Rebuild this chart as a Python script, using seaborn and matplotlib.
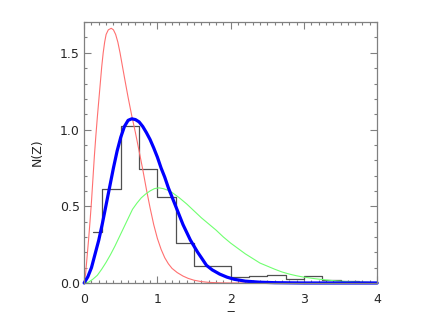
import matplotlib
matplotlib.use('Agg')
import matplotlib.pyplot as plt
from matplotlib.ticker import MultipleLocator
import seaborn as sns

# histogram of N(z), bin centres every 0.25
hist_z = [0.125, 0.375, 0.625, 0.875, 1.125, 1.375, 1.625, 1.875,
          2.125, 2.375, 2.625, 2.875, 3.125, 3.375, 3.625, 3.875]
hist_n = [0.33, 0.61, 1.02, 0.74, 0.56, 0.26, 0.11, 0.11,
          0.037, 0.045, 0.052, 0.024, 0.048, 0.02, 0.01, 0.005]

# red curve (narrow, low-z)
red_z = [0, 0.02, 0.04, 0.06, 0.08, 0.10, 0.12, 0.14, 0.16, 0.18, 0.20, 0.22,
         0.24, 0.26, 0.28, 0.30, 0.33, 0.37, 0.40, 0.43, 0.46, 0.49, 0.55,
         0.60, 0.65, 0.70, 0.75, 0.80, 0.85, 0.90, 0.95, 1.00, 1.05, 1.10,
         1.15, 1.20, 1.27, 1.35, 1.42, 1.50, 1.60, 1.70, 1.85, 2.00, 4.00]
red_n = [0, 0.06, 0.17, 0.28, 0.40, 0.53, 0.68, 0.83, 0.96, 1.08, 1.19, 1.30,
         1.41, 1.50, 1.57, 1.62, 1.65, 1.66, 1.65, 1.62, 1.57, 1.50, 1.34,
         1.21, 1.09, 0.98, 0.86, 0.74, 0.61, 0.49, 0.38, 0.29, 0.22, 0.165,
         0.125, 0.095, 0.068, 0.045, 0.03, 0.018, 0.009, 0.004, 0.001, 0.0, 0.0]

# blue curve (fit)
blue_z = [0, 0.05, 0.10, 0.15, 0.20, 0.25, 0.30, 0.35, 0.40, 0.45, 0.50, 0.55,
          0.60, 0.65, 0.70, 0.75, 0.80, 0.85, 0.90, 0.95, 1.00, 1.05, 1.10,
          1.15, 1.20, 1.25, 1.30, 1.35, 1.40, 1.45, 1.50, 1.55, 1.60, 1.67,
          1.75, 1.85, 1.95, 2.05, 2.20, 2.40, 2.60, 3.00, 4.00]
blue_n = [0, 0.04, 0.10, 0.19, 0.28, 0.39, 0.51, 0.63, 0.75, 0.86, 0.95, 1.02,
          1.06, 1.07, 1.065, 1.05, 1.02, 0.98, 0.935, 0.88, 0.82, 0.75, 0.69,
          0.62, 0.56, 0.50, 0.44, 0.38, 0.33, 0.28, 0.24, 0.20, 0.165, 0.115,
          0.085, 0.058, 0.038, 0.024, 0.012, 0.005, 0.002, 0.0, 0.0]

# green curve (broad, high-z)
green_z = [0, 0.06, 0.12, 0.18, 0.24, 0.30, 0.36, 0.42, 0.48, 0.54, 0.60, 0.66,
           0.72, 0.78, 0.84, 0.90, 0.96, 1.02, 1.08, 1.14, 1.20, 1.30, 1.40,
           1.50, 1.60, 1.70, 1.80, 1.90, 2.00, 2.10, 2.20, 2.30, 2.40, 2.50,
           2.60, 2.70, 2.80, 2.90, 3.00, 3.15, 3.30, 3.45, 3.60, 3.80, 4.00]
green_n = [0, 0.005, 0.025, 0.05, 0.09, 0.135, 0.185, 0.24, 0.30, 0.36, 0.42,
           0.48, 0.52, 0.555, 0.58, 0.60, 0.615, 0.62, 0.615, 0.605, 0.59,
           0.555, 0.515, 0.47, 0.425, 0.385, 0.345, 0.30, 0.26, 0.225, 0.19,
           0.16, 0.13, 0.11, 0.09, 0.072, 0.058, 0.047, 0.038, 0.028, 0.02,
           0.013, 0.009, 0.005, 0.003]

sns.set_style('ticks')
plt.rcParams['font.family'] = ['DejaVu Sans']

fig = plt.figure(figsize=(4.36, 3.12), dpi=100)
ax = fig.add_axes([0.193, 0.093, 0.672, 0.836])

sns.lineplot(x=hist_z, y=hist_n, ax=ax, color='#505050', lw=0.9,
             drawstyle='steps-mid', estimator=None, sort=False)
sns.lineplot(x=red_z, y=red_n, ax=ax, color='#ff7070', lw=0.8,
             estimator=None, sort=False)
sns.lineplot(x=green_z, y=green_n, ax=ax, color='#70ff70', lw=0.8,
             estimator=None, sort=False)
sns.lineplot(x=blue_z, y=blue_n, ax=ax, color='#0000ff', lw=2.3,
             estimator=None, sort=False, clip_on=False)

ax.set_xlim(0, 4)
ax.set_ylim(0, 1.70)
ax.set_xticks([0, 1, 2, 3, 4])
ax.set_xticklabels(['0', '1', '2', '3', '4'])
ax.set_yticks([0, 0.5, 1.0, 1.5])
ax.set_yticklabels(['0.0', '0.5', '1.0', '1.5'])
ax.xaxis.set_minor_locator(MultipleLocator(0.1))
ax.yaxis.set_minor_locator(MultipleLocator(0.1))
ax.tick_params(which='both', direction='in', top=True, right=True,
               color='#808080', labelsize=9, width=0.8)
ax.tick_params(which='major', length=5)
ax.tick_params(which='minor', length=2.5)
ax.tick_params(axis='x', pad=7)
ax.tick_params(axis='y', pad=3)
for s in ax.spines.values():
    s.set_color('#808080')
    s.set_linewidth(0.9)

ax.set_xlabel('Z', fontsize=9, labelpad=3)
ax.set_ylabel('N(Z)', fontsize=9, labelpad=12)

fig.savefig('out.png', dpi=100)
